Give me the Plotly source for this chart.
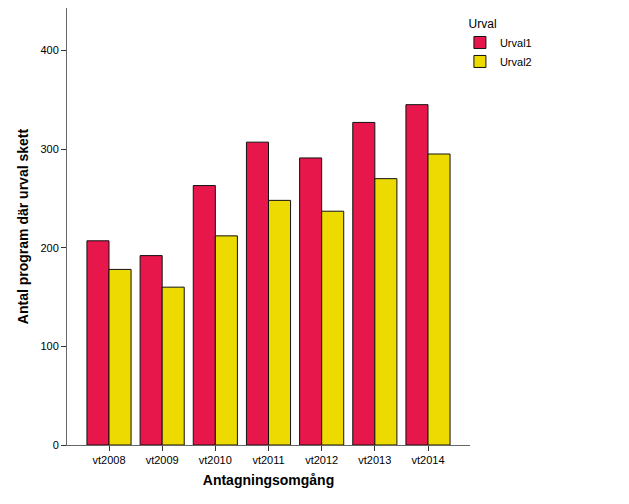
import plotly.graph_objects as go

categories = ["vt2008", "vt2009", "vt2010", "vt2011", "vt2012", "vt2013", "vt2014"]
urval1 = [207, 192, 263, 307, 291, 327, 345]
urval2 = [178, 160, 212, 248, 237, 270, 295]
y_ticks = [0, 100, 200, 300, 400]

fig = go.Figure()
fig.add_trace(go.Bar(name="Urval1", x=categories, y=urval1,
                     marker=dict(color="#E8174B", line=dict(color="#111111", width=1))))
fig.add_trace(go.Bar(name="Urval2", x=categories, y=urval2,
                     marker=dict(color="#EDDA00", line=dict(color="#111111", width=1))))

fig.update_layout(
    width=629, height=504,
    margin=dict(l=59, r=167, t=0, b=67),
    paper_bgcolor="white", plot_bgcolor="white",
    barmode="group", bargap=0.17, bargroupgap=0,
    font=dict(family="Liberation Sans, Arial, sans-serif", size=11, color="#000000"),
    showlegend=True,
    legend=dict(
        title=dict(text="&nbsp;&nbsp;Urval", font=dict(size=12)),
        x=0.975, y=0.99, xanchor="left", yanchor="top",
        font=dict(size=11), itemwidth=30, tracegroupgap=0,
        bgcolor="rgba(0,0,0,0)",
    ),
    xaxis=dict(
        title=dict(text="<b>Antagningsomgång</b>", font=dict(size=14), standoff=9),
        range=[-0.79, 6.79], showline=True, linecolor="#666666", linewidth=1,
        ticks="outside", ticklen=5, tickcolor="#333333", showgrid=False,
        tickfont=dict(size=11),
    ),
    yaxis=dict(
        title=dict(text="<b>Antal program där urval skett</b>", font=dict(size=14), standoff=8),
        range=[0, 443], tickvals=y_ticks, showline=True, linecolor="#666666", linewidth=1,
        ticks="outside", ticklen=5, tickcolor="#333333", showgrid=False, zeroline=False,
        tickfont=dict(size=11),
    ),
)

fig.write_html("out.html")
